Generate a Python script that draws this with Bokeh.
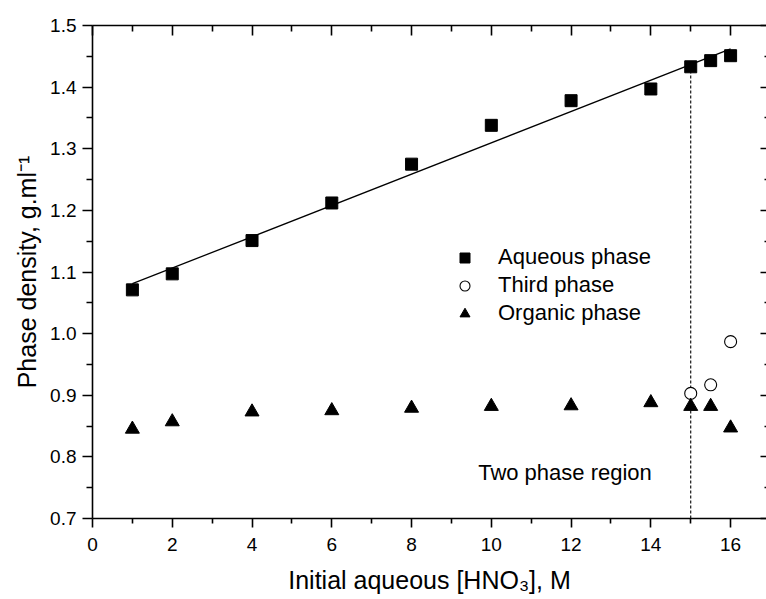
from bokeh.plotting import figure
from bokeh.models import (Range1d, FixedTicker, LinearAxis, PrintfTickFormatter,
                          Legend, LegendItem, Label)
from bokeh.embed import file_html
from bokeh.resources import INLINE

# ---------------- data ----------------
conc = [1, 2, 4, 6, 8, 10, 12, 14, 15, 15.5, 16]
aqueous = [1.071, 1.097, 1.151, 1.212, 1.275, 1.338, 1.378, 1.397, 1.433, 1.443, 1.451]
organic = [0.845, 0.857, 0.873, 0.875, 0.879, 0.882, 0.883, 0.888, 0.882, 0.882, 0.847]
third_conc = [15, 15.5, 16]
third = [0.903, 0.917, 0.987]
fit_x = [1, 16]
fit_y = [1.081, 1.462]
boundary_x = [15]
boundary_y0 = [0.7]
boundary_y1 = [1.433]

x_ticks = [0, 2, 4, 6, 8, 10, 12, 14, 16]
x_minor = [1, 3, 5, 7, 9, 11, 13, 15]
y_ticks = [0.7, 0.8, 0.9, 1.0, 1.1, 1.2, 1.3, 1.4, 1.5]
y_minor = [0.75, 0.85, 0.95, 1.05, 1.15, 1.25, 1.35, 1.45]

x_title = "Initial aqueous [HNO\u2083], M"
y_title = "Phase density, g.ml\u207b\u00b9"
series_names = ["Aqueous phase", "Third phase", "Organic phase"]
region_text = "Two phase region"

FONT = "Liberation Sans"

p = figure(width=766, height=599,
           x_range=Range1d(0, 16.9), y_range=Range1d(0.7, 1.5),
           output_backend="svg", toolbar_location=None,
           min_border_left=92, min_border_right=0,
           min_border_top=25, min_border_bottom=81)
p.outline_line_color = None
p.xgrid.visible = False
p.ygrid.visible = False
p.background_fill_color = "white"


def style_axis(ax, tick_font="19px"):
    ax.axis_line_color = "black"
    ax.axis_line_width = 1.6
    ax.major_tick_line_color = "black"
    ax.major_tick_line_width = 1.6
    ax.minor_tick_line_color = "black"
    ax.minor_tick_line_width = 1.6
    ax.major_label_text_font = FONT
    ax.major_label_text_font_size = tick_font
    ax.major_label_text_color = "black"
    ax.axis_label_text_font = FONT
    ax.axis_label_text_font_style = "normal"
    ax.axis_label_text_font_size = "25px"
    ax.axis_label_text_color = "black"


def hide_labels(ax):
    ax.major_label_text_color = None
    ax.major_label_text_font_size = "1px"
    ax.major_label_standoff = 0


xt = FixedTicker(ticks=x_ticks, minor_ticks=x_minor)
yt = FixedTicker(ticks=y_ticks, minor_ticks=y_minor)

xa = p.xaxis[0]
xa.ticker = xt
style_axis(xa)
xa.major_tick_out = 9
xa.major_tick_in = 0
xa.minor_tick_out = 5
xa.minor_tick_in = 0
xa.major_label_standoff = 10
xa.axis_label = x_title
xa.axis_label_standoff = 12

ya = p.yaxis[0]
ya.ticker = yt
ya.formatter = PrintfTickFormatter(format="%.1f")
style_axis(ya)
ya.major_tick_out = 10
ya.major_tick_in = 0
ya.minor_tick_out = 6
ya.minor_tick_in = 0
ya.major_label_standoff = 6
ya.axis_label = y_title
ya.axis_label_standoff = 6

top = LinearAxis(ticker=FixedTicker(ticks=x_ticks, minor_ticks=x_minor))
style_axis(top)
hide_labels(top)
top.major_tick_in = 10
top.major_tick_out = 0
top.minor_tick_in = 6
top.minor_tick_out = 0
p.add_layout(top, "above")

right = LinearAxis(ticker=FixedTicker(ticks=y_ticks, minor_ticks=y_minor))
style_axis(right)
hide_labels(right)
right.axis_line_color = None
right.major_tick_in = 6
right.major_tick_out = 0
right.minor_tick_in = 2
right.minor_tick_out = 0
p.add_layout(right, "right")

# fitted line
p.line(fit_x, fit_y, line_color="black", line_width=1.3)

# boundary of the two phase region
p.segment(x0=boundary_x, y0=boundary_y0, x1=boundary_x, y1=boundary_y1,
          line_color="black", line_width=1.1, line_dash="3 2")

r_aq = p.scatter(conc, aqueous, marker="square", size=12,
                 fill_color="black", line_color="black")
r_th = p.scatter(third_conc, third, marker="circle", size=12,
                 fill_color="white", line_color="black", line_width=1.1)
r_or = p.scatter(conc, organic, marker="triangle", size=14,
                 fill_color="black", line_color="black")

legend = Legend(items=[LegendItem(label=series_names[0], renderers=[r_aq]),
                       LegendItem(label=series_names[1], renderers=[r_th]),
                       LegendItem(label=series_names[2], renderers=[r_or])],
                location=(360, 192), orientation="vertical",
                glyph_width=25, glyph_height=25, label_height=25,
                label_standoff=21, spacing=2, padding=0, margin=0,
                border_line_color=None, background_fill_alpha=0,
                label_text_font=FONT, label_text_font_size="22px",
                label_text_color="black")
p.add_layout(legend)

p.add_layout(Label(x=9.67, y=0.774, text=region_text, x_units="data", y_units="data",
                   text_font=FONT, text_font_size="22px", text_color="black",
                   text_baseline="alphabetic", text_align="left"))

open("out.html", "w").write(file_html(p, INLINE))
